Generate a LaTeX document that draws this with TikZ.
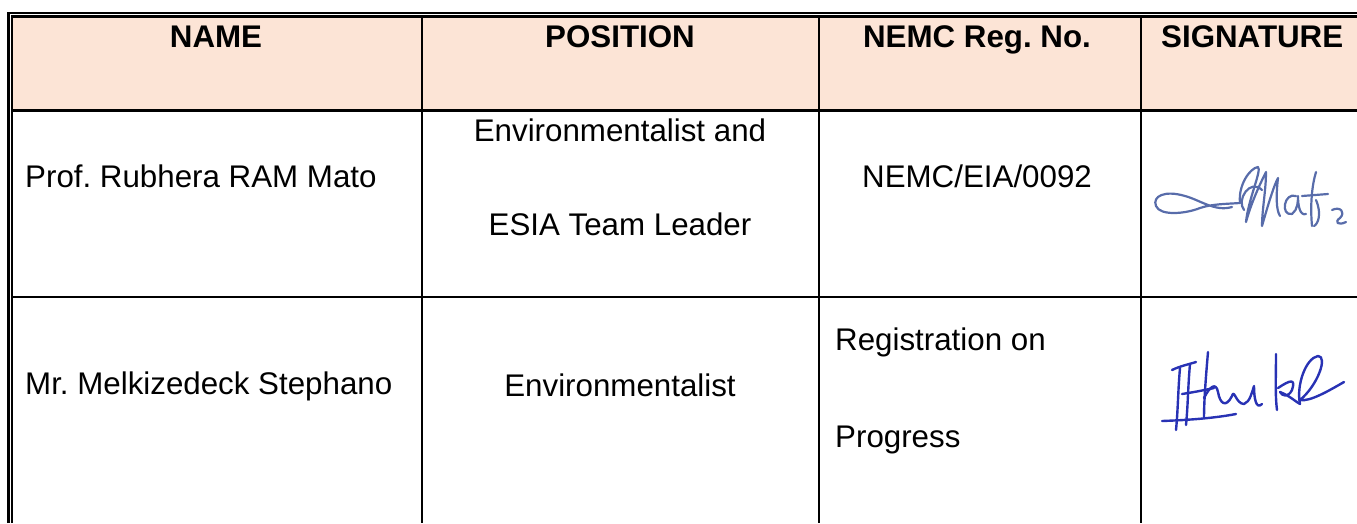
\documentclass[tikz,border=0pt]{standalone}
\usepackage{fontspec}
\setmainfont{Liberation Sans}
\frenchspacing
\definecolor{hdrfill}{RGB}{252,228,214}
\definecolor{sigA}{RGB}{88,108,170}
\definecolor{sigB}{RGB}{40,50,180}
\begin{document}
\begin{tikzpicture}[x=1pt,y=-1pt,
  rule/.style={line width=2.2pt,black},
  cell/.style={inner sep=0pt,font=\fontsize{31.3}{36}\selectfont\frenchspacing},
  hdr/.style={cell,font=\fontsize{31.3}{36}\selectfont\bfseries\frenchspacing},
  sigastroke/.style={sigA,line width=2.2pt,line cap=round,line join=round},
  sigbstroke/.style={sigB,line width=2.4pt,line cap=round,line join=round}]
\useasboundingbox (0,0) rectangle (1357,523);
% header fill
\fill[hdrfill] (12,16.5) rectangle (1357,110.5);
% outer double border
\draw[line width=2.6pt] (8.5,523) -- (8.5,13) -- (1357,13);
\draw[rule] (12,523) -- (12,16.5) -- (1357,16.5);
% horizontal rules
\draw[rule] (12,110.5) -- (1357,110.5);
\draw[rule] (12,297) -- (1357,297);
% column rules
\foreach \cx in {422,819,1141} \draw[rule] (\cx,16.5) -- (\cx,523);
% header
\node[hdr,anchor=base] (hname) at (216,47.5) {NAME};
\node[hdr,anchor=base] (hpos) at (620,47.5) {POSITION};
\node[hdr,anchor=base] (hreg) at (977,47.5) {NEMC Reg. No.};
\node[hdr,anchor=base west] (hsig) at (1161,47.5) {SIGNATURE};
% row 1
\node[cell,anchor=base west] (n1) at (25,187.5) {Prof. Rubhera RAM Mato};
\node[cell,anchor=base] (p1a) at (620,141.5) {Environmentalist and};
\node[cell,anchor=base] (p1b) at (620,235) {ESIA Team Leader};
\node[cell,anchor=base] (r1) at (977,187.5) {NEMC/EIA/0092};
% row 2
\node[cell,anchor=base west] (n2) at (25,394) {Mr. Melkizedeck Stephano};
\node[cell,anchor=base] (p2) at (620,396) {Environmentalist};
\node[cell,anchor=base west] (r2a) at (835,350) {Registration on};
\node[cell,anchor=base west] (r2b) at (835,447) {Progress};
% signature 1 (Mato)
\draw[sigastroke] (1232,207) .. controls (1215,212) and (1200,200) .. (1185,196)
  .. controls (1165,190) and (1152,196) .. (1156,206)
  .. controls (1160,216) and (1185,214) .. (1200,208)
  .. controls (1212,204) and (1225,204) .. (1240,203);
\draw[sigastroke] (1240,203) .. controls (1238,185) and (1250,168) .. (1258,167)
  .. controls (1262,170) and (1248,200) .. (1246,222)
  .. controls (1252,200) and (1262,180) .. (1266,172)
  .. controls (1266,190) and (1262,210) .. (1262,226)
  .. controls (1268,205) and (1274,185) .. (1278,178)
  .. controls (1276,195) and (1276,210) .. (1280,216);
\draw[sigastroke] (1244,210) .. controls (1236,200) and (1250,178) .. (1262,190);
\draw[sigastroke] (1296,196) .. controls (1284,192) and (1280,216) .. (1292,214)
  .. controls (1298,210) and (1298,200) .. (1298,196) .. controls (1298,206) and (1300,216) .. (1306,214);
\draw[sigastroke] (1316,172) .. controls (1312,185) and (1310,205) .. (1312,226);
\draw[sigastroke] (1302,196) -- (1328,194);
\draw[sigastroke] (1316,200) .. controls (1322,214) and (1318,224) .. (1314,226);
\draw[sigastroke] (1332,210) .. controls (1340,206) and (1346,212) .. (1340,218)
  .. controls (1334,222) and (1338,226) .. (1346,222);
% signature 2
\draw[sigbstroke] (1180,368) .. controls (1178,390) and (1178,410) .. (1176,430);
\draw[sigbstroke] (1172,370) .. controls (1180,366) and (1190,364) .. (1196,362);
\draw[sigbstroke] (1190,364) .. controls (1188,385) and (1188,405) .. (1186,425);
\draw[sigbstroke] (1162,421) .. controls (1190,420) and (1215,418) .. (1236,414);
\draw[sigbstroke] (1182,394) .. controls (1195,392) and (1205,390) .. (1214,388);
\draw[sigbstroke] (1208,352) .. controls (1206,375) and (1204,400) .. (1204,418);
\draw[sigbstroke] (1204,398) .. controls (1210,386) and (1216,382) .. (1218,392)
  .. controls (1220,404) and (1226,408) .. (1232,396)
  .. controls (1234,388) and (1236,404) .. (1244,404)
  .. controls (1250,402) and (1252,392) .. (1254,386)
  .. controls (1254,398) and (1256,410) .. (1262,404);
\draw[sigbstroke] (1276,354) .. controls (1276,375) and (1275,395) .. (1277,410);
\draw[sigbstroke] (1278,388) .. controls (1290,380) and (1296,378) .. (1292,390)
  .. controls (1288,398) and (1282,396) .. (1280,392)
  .. controls (1290,396) and (1296,402) .. (1300,404);
\draw[sigbstroke] (1300,404) .. controls (1296,385) and (1306,358) .. (1318,356)
  .. controls (1328,356) and (1318,385) .. (1300,400)
  .. controls (1310,402) and (1330,390) .. (1344,382);
\end{tikzpicture}
\end{document}
